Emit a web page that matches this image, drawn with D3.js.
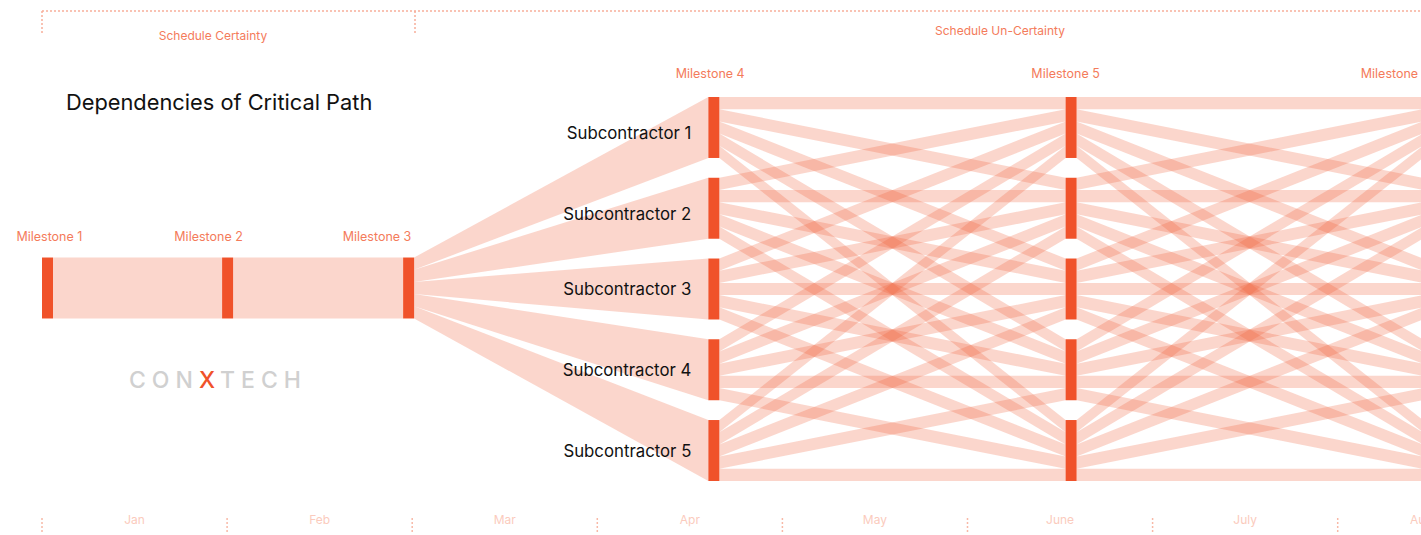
<!DOCTYPE html>
<html>
<head>
<meta charset="utf-8">
<script src="https://cdn.jsdelivr.net/npm/d3@7"></script>
<style>
  body { margin: 0; background: #fff; overflow: hidden; }
  text { font-family: Inter, "Liberation Sans", Arial, sans-serif; }
</style>
</head>
<body>
<svg id="chart" width="1421" height="535"></svg>
<script>
// --- data ---
const months = ["Jan", "Feb", "Mar", "Apr", "May", "June", "July", "Aug"];
const milestones = ["Milestone 1", "Milestone 2", "Milestone 3", "Milestone 4", "Milestone 5", "Milestone 6"];
const milestoneMonth = [0, 0.973, 1.951, 3.6, 5.53, 7.46];       // where each milestone sits (months from Jan 1)
const milestoneLabelMonth = [0.04, 0.9, 1.81, 3.61, 5.53, 7.31];
const subcontractors = ["Subcontractor 1", "Subcontractor 2", "Subcontractor 3", "Subcontractor 4", "Subcontractor 5"];
const criticalFlow = [5, 5];              // M1 -> M2 -> M3
const fanOut = [1, 1, 1, 1, 1];           // M3 -> each subcontractor
const handoffsM4M5 = [
  [1, 1, 1, 1, 1],
  [1, 1, 1, 1, 1],
  [1, 1, 1, 1, 1],
  [1, 1, 1, 1, 1],
  [1, 1, 1, 1, 1]
];
const handoffsM5M6 = [
  [1, 1, 1, 1, 1],
  [1, 1, 1, 1, 1],
  [1, 1, 1, 1, 1],
  [1, 1, 1, 1, 1],
  [1, 1, 1, 1, 1]
];

const svg = d3.select("#chart");
const nodeW = 11;
const nodeColor = "#f0522a";
const linkColor = "#ef5a33";
const salmon = "#f47b5b";

const x = d3.scaleLinear().domain([0, 8]).range([42, 42 + 8 * 185.1]);
const y = d3.scaleBand().domain(subcontractors).range([97, 481]).paddingInner(0.245);
const w = d3.scaleLinear().domain([0, d3.sum(fanOut)]).range([0, y.bandwidth()]);
const pathY = y(subcontractors[2]) - 1;

const band = d3.area().x(d => d.x).y0(d => d.y0).y1(d => d.y1);

// build link bands
const links = [];
criticalFlow.forEach((v, i) => {
  links.push([
    { x: x(milestoneMonth[i]) + nodeW, y0: pathY, y1: pathY + w(v) },
    { x: x(milestoneMonth[i + 1]), y0: pathY, y1: pathY + w(v) }
  ]);
});

let off = 0;
fanOut.forEach((v, i) => {
  links.push([
    { x: x(milestoneMonth[2]) + nodeW, y0: pathY + w(off), y1: pathY + w(off + v) },
    { x: x(milestoneMonth[3]), y0: y(subcontractors[i]), y1: y(subcontractors[i]) + y.bandwidth() }
  ]);
  off += v;
});

[[3, handoffsM4M5], [4, handoffsM5M6]].forEach(([s, mat]) => {
  const inOff = subcontractors.map(() => 0);
  mat.forEach((row, i) => {
    let outOff = 0;
    row.forEach((v, j) => {
      links.push([
        { x: x(milestoneMonth[s]) + nodeW, y0: y(subcontractors[i]) + w(outOff), y1: y(subcontractors[i]) + w(outOff + v) },
        { x: x(milestoneMonth[s + 1]), y0: y(subcontractors[j]) + w(inOff[j]), y1: y(subcontractors[j]) + w(inOff[j] + v) }
      ]);
      outOff += v;
      inOff[j] += v;
    });
  });
});

svg.append("g")
  .attr("fill", linkColor)
  .attr("fill-opacity", 0.25)
  .selectAll("path")
  .data(links)
  .join("path")
  .attr("d", band);

// nodes
const nodes = [];
[0, 1, 2].forEach(m => nodes.push({ x: x(milestoneMonth[m]), y: pathY }));
[3, 4, 5].forEach(m => subcontractors.forEach(s => nodes.push({ x: x(milestoneMonth[m]), y: y(s) })));

svg.append("g")
  .attr("fill", nodeColor)
  .selectAll("rect")
  .data(nodes)
  .join("rect")
  .attr("x", d => d.x)
  .attr("y", d => d.y)
  .attr("width", nodeW)
  .attr("height", y.bandwidth());

// milestone labels
svg.append("g")
  .attr("fill", salmon)
  .attr("font-size", 12.5)
  .attr("text-anchor", "middle")
  .selectAll("text")
  .data(milestones)
  .join("text")
  .attr("x", (d, i) => x(milestoneLabelMonth[i]))
  .attr("y", (d, i) => i < 3 ? pathY - 17 : y(subcontractors[0]) - 19)
  .text(d => d);

// subcontractor labels
svg.append("g")
  .attr("fill", "#111")
  .attr("font-size", 16.8)
  .attr("text-anchor", "end")
  .selectAll("text")
  .data(subcontractors)
  .join("text")
  .attr("x", x(milestoneMonth[3]) - 17)
  .attr("y", (d, i) => y(d) + y.bandwidth() / 2 + 6 + (i < 2 ? 6 : 0))
  .text(d => d);

// title
svg.append("text")
  .attr("x", 66)
  .attr("y", 110)
  .attr("font-size", 21.8)
  .attr("fill", "#111")
  .text("Dependencies of Critical Path");

// schedule brackets
const dotted = svg.append("g")
  .attr("stroke", "#f8ae9a")
  .attr("stroke-width", 1.5)
  .attr("stroke-dasharray", "2,2")
  .attr("fill", "none");
dotted.append("line").attr("x1", x(0)).attr("x2", 1421).attr("y1", 11).attr("y2", 11);
dotted.append("line").attr("x1", x(0)).attr("x2", x(0)).attr("y1", 11).attr("y2", 34);
dotted.append("line").attr("x1", 415).attr("x2", 415).attr("y1", 11).attr("y2", 34);

svg.append("text")
  .attr("x", 213).attr("y", 40)
  .attr("font-size", 12).attr("fill", salmon).attr("text-anchor", "middle")
  .text("Schedule Certainty");
svg.append("text")
  .attr("x", 1000).attr("y", 35)
  .attr("font-size", 12).attr("fill", salmon).attr("text-anchor", "middle")
  .text("Schedule Un-Certainty");

// logo
const logo = svg.append("text")
  .attr("x", 218).attr("y", 388)
  .attr("font-size", 23)
  .attr("font-weight", 500)
  .attr("letter-spacing", 6)
  .attr("text-anchor", "middle")
  .attr("fill", "#d0d0d0");
logo.append("tspan").text("CON");
logo.append("tspan").attr("fill", nodeColor).text("X");
logo.append("tspan").text("TECH");

// month axis
svg.append("g")
  .attr("stroke", "#f8b9a7")
  .attr("stroke-width", 1.5)
  .attr("stroke-dasharray", "2,2")
  .selectAll("line")
  .data(d3.range(months.length + 1))
  .join("line")
  .attr("x1", d => x(d)).attr("x2", d => x(d))
  .attr("y1", 518).attr("y2", 533);

svg.append("g")
  .attr("fill", "#fbcbbd")
  .attr("font-size", 12)
  .attr("text-anchor", "middle")
  .selectAll("text")
  .data(months)
  .join("text")
  .attr("x", (d, i) => x(i + 0.5) - (i === months.length - 1 ? 9 : 0))
  .attr("y", 524)
  .text(d => d);
</script>
</body>
</html>
